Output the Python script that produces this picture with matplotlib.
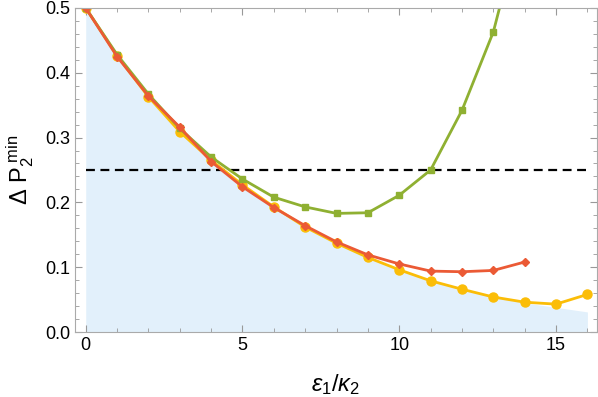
import matplotlib
matplotlib.use("Agg")
from matplotlib import pyplot as plt
from matplotlib.ticker import MultipleLocator

plt.rcParams["font.family"] = ["Liberation Sans", "DejaVu Sans"]
plt.rcParams["mathtext.fontset"] = "custom"
plt.rcParams["mathtext.rm"] = "Liberation Sans"
plt.rcParams["mathtext.it"] = "Liberation Sans:italic"

x_yellow = list(range(17))
y_yellow = [0.5, 0.426, 0.363, 0.309, 0.265, 0.227, 0.193, 0.162, 0.137, 0.115,
            0.096, 0.079, 0.066, 0.054, 0.046, 0.043, 0.058]
x_red = list(range(15))
y_red = [0.5, 0.425, 0.364, 0.316, 0.263, 0.224, 0.192, 0.164, 0.139, 0.119,
         0.105, 0.094, 0.093, 0.095, 0.108]
x_green = list(range(15))
y_green = [0.5, 0.428, 0.367, 0.314, 0.270, 0.236, 0.208, 0.193, 0.183, 0.184,
           0.211, 0.250, 0.342, 0.463, 0.65]
x_fill = list(range(17))
y_fill = [0.5, 0.426, 0.363, 0.309, 0.265, 0.227, 0.193, 0.162, 0.137, 0.115,
          0.096, 0.079, 0.066, 0.054, 0.045, 0.038, 0.031]
threshold = 0.25

fig = plt.figure(figsize=(5.98, 3.97), dpi=100)
ax = fig.add_axes([0.125, 0.1637, 0.873, 0.8163])

ax.fill_between(x_fill, 0, y_fill, color="#e2f0fb", lw=0)
ax.plot([0, 16], [threshold, threshold], "--", color="black", lw=1.6, dashes=(4, 2.5))
ax.plot(x_yellow, y_yellow, "-o", color="#fbbd07", lw=2, ms=6.5)
ax.plot(x_green, y_green, "-s", color="#8fb032", lw=2, ms=4.5)
ax.plot(x_red, y_red, "-D", color="#eb5a35", lw=2, ms=4.5)

ax.set_xlim(-0.35, 16.3)
ax.set_ylim(0, 0.5)
ax.xaxis.set_major_locator(MultipleLocator(5))
ax.xaxis.set_minor_locator(MultipleLocator(1))
ax.yaxis.set_major_locator(MultipleLocator(0.1))
ax.yaxis.set_minor_locator(MultipleLocator(0.02))
ax.yaxis.set_major_formatter(matplotlib.ticker.FormatStrFormatter("%.1f"))
ax.tick_params(which="both", direction="in", top=True, right=True,
               color="#999999", labelsize=13)
ax.tick_params(which="major", length=5)
ax.tick_params(which="minor", length=3)
for s in ax.spines.values():
    s.set_color("#aaaaaa")

ax.set_xlabel(r"$\epsilon_1/\kappa_2$", fontsize=17, labelpad=13)
ax.set_ylabel(r"$\Delta\ \mathrm{P}_2^{\ \mathrm{min}}$", fontsize=17, labelpad=6)

fig.savefig("out.png", dpi=100)
